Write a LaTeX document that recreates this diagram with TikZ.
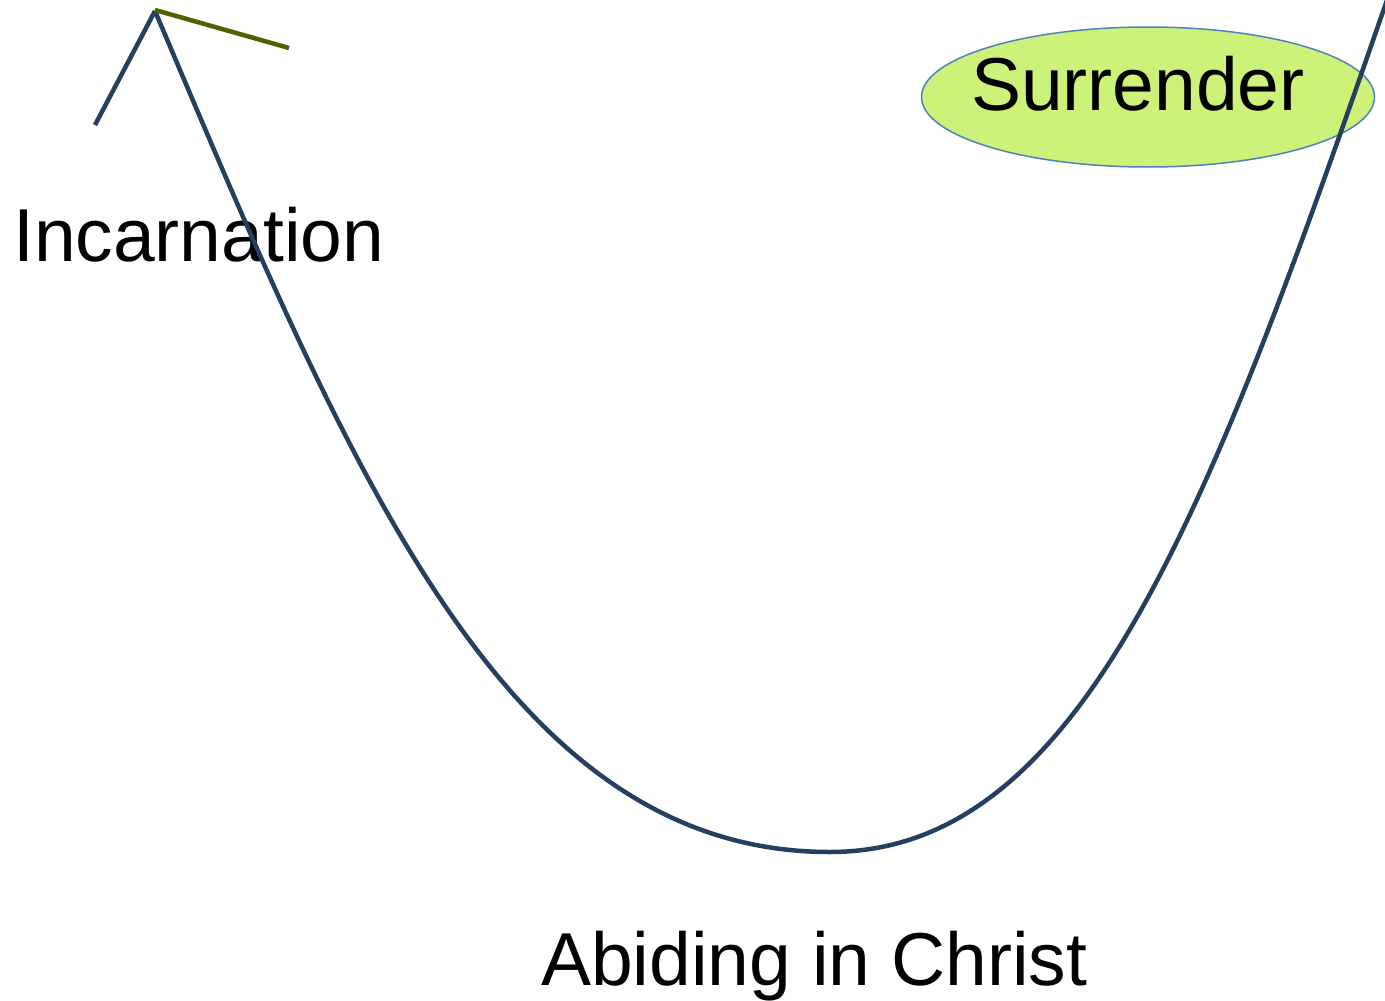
\documentclass[tikz,border=0pt]{standalone}
\usepackage{fontspec}
\setmainfont{Liberation Sans}
\usetikzlibrary{shapes.geometric}
\definecolor{curveblue}{HTML}{243F60}
\definecolor{olivegreen}{HTML}{4F6200}
\definecolor{limefill}{HTML}{CCF27A}
\definecolor{rimblue}{HTML}{4F81BD}
\begin{document}
\begin{tikzpicture}[x=1pt,y=-1pt,
  bigtext/.style={font=\fontsize{75}{80}\selectfont, inner sep=0pt, anchor=base west},
  curveline/.style={draw=curveblue, line width=4.5pt},
  greenline/.style={draw=olivegreen, line width=4.5pt},
  oval/.style={ellipse, draw=rimblue, line width=1.5pt, fill=limefill, minimum width=453pt, minimum height=140pt, inner sep=0pt}]
\useasboundingbox (0,0) rectangle (1385,1001);
\fill[white] (0,0) rectangle (1385,1001);
\node[oval] (surr) at (1148,97) {};
\node[bigtext] (surrtext) at (971,110) {Surrender};
\node[bigtext] (inc) at (13,261) {Incarnation};
\node[bigtext] (abide) at (541,985) {Abiding in Christ};
\coordinate (leftend) at (95,125);
\coordinate (peak) at (155,11);
\coordinate (bottom) at (830,852);
\coordinate (rightend) at (1387,0);
\coordinate (greenend) at (289,48);
\draw[curveline] (leftend) -- (peak);
\draw[curveline] (peak) .. controls (350,471) and (505,852) .. (bottom)
  .. controls (1080,852) and (1207,520) .. (rightend);
\draw[greenline] (peak) ++(0,-1) -- (greenend);
\end{tikzpicture}
\end{document}
